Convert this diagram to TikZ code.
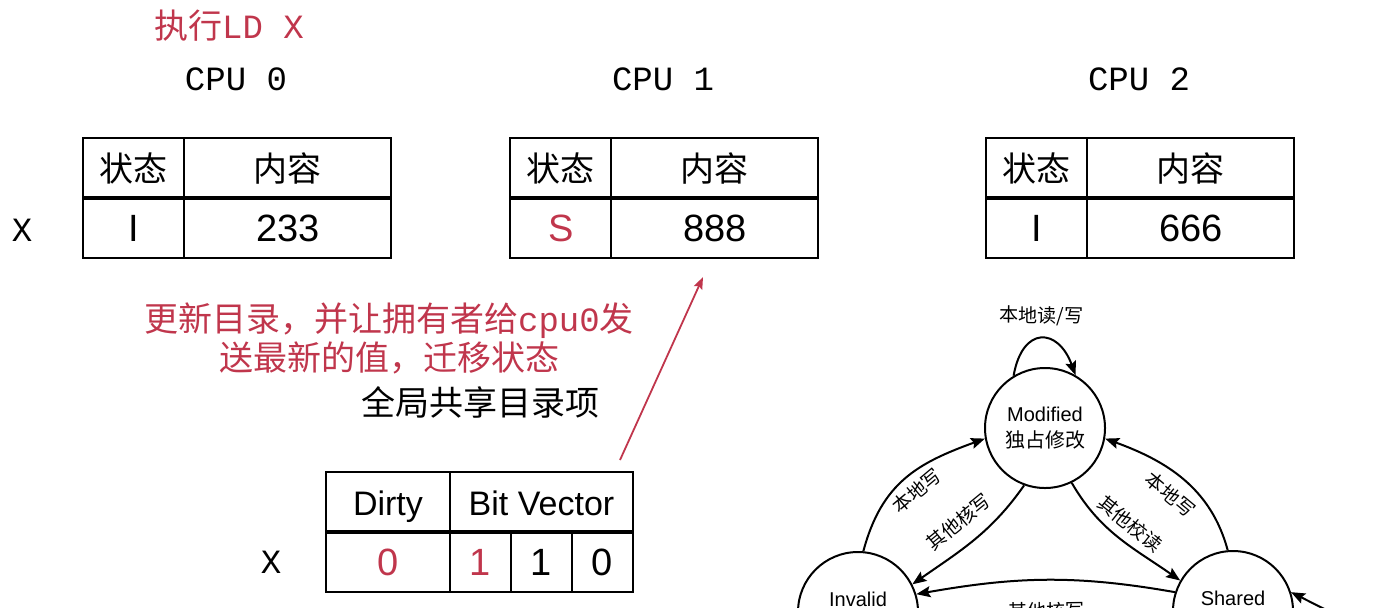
\documentclass[tikz,border=0pt]{standalone}
\usepackage{fontspec}
\setmainfont{Liberation Sans}
\setmonofont{Liberation Mono}
\newfontfamily\cjk{Noto Sans CJK SC}
\usetikzlibrary{arrows.meta,positioning,matrix}
\definecolor{hlred}{RGB}{192,54,76}
\tikzset{
	cell/.style={draw, line width=1pt, minimum height=30pt, inner sep=0pt, outer sep=0pt, anchor=center, text height=13pt, text depth=0pt},
	hdfont/.style={font=\fontsize{17pt}{20pt}\selectfont},
	valfont/.style={font=\fontsize{19pt}{22pt}\selectfont},
	monofont/.style={font=\ttfamily\fontsize{17pt}{20pt}\selectfont},
	cjkbig/.style={font=\cjk\fontsize{17pt}{19.5pt}\selectfont},
	state/.style={circle, draw, line width=1pt, minimum size=60pt, inner sep=0pt, align=center, font=\fontsize{10pt}{13pt}\selectfont},
	edge/.style={line width=1pt, -{Stealth[length=7pt,width=5.5pt,inset=1.2pt]}},
	lbl/.style={font=\cjk\fontsize{9.5pt}{11pt}\selectfont, sloped, inner sep=1pt}
}
\begin{document}
\begin{tikzpicture}[x=0.5pt, y=-0.5pt]
	\useasboundingbox (0,0) rectangle (1381,607);
	\clip (0,0) rectangle (1381,607);
	\node[cjkbig, text=hlred] (title) at (229,26) {执行{\ttfamily LD X}};
	% caches of the three cpus
	\foreach \x/\stname/\cval/\scol [count=\i from 0] in {82/I/233/black, 509/S/888/hlred, 985/I/666/black}{
		\node[monofont] (cpu\i) at (\x+154,79) {CPU \i};
		\matrix (T\i) [matrix of nodes, ampersand replacement=\&, anchor=north west, inner sep=0pt, column sep=-1pt, row sep=-1pt, nodes={cell},
			column 1/.style={nodes={minimum width=50.5pt}}, column 2/.style={nodes={minimum width=103.5pt}},
			row 1/.style={nodes={hdfont}}, row 2/.style={nodes={valfont}}] at (\x,137) {
			{\cjk 状态} \& {\cjk 内容} \\
			|[text=\scol]| \stname \& \cval \\
		};
		\draw[line width=2pt] (T\i-2-1.north west) -- (T\i-2-2.north east);
	}
	\node[monofont] (xcpu) at (22,230) {X};
	% directory entry
	\node[cjkbig, text=hlred, align=center] (note) at (389,338) {更新目录，并让拥有者给{\ttfamily cpu0}发\\送最新的值，迁移状态};
	\node[cjkbig] (dirtitle) at (480,402) {全局共享目录项};
	\node[cell, hdfont, minimum width=62pt] (dirtyhd) at (388,502) {Dirty};
	\node[cell, hdfont, minimum width=91.5pt, right=0pt of dirtyhd] (bitshd) {Bit Vector};
	\node[cell, valfont, minimum width=62pt, text=hlred, below=0pt of dirtyhd] (dirtyval) {0};
	\node[cell, valfont, minimum width=30.5pt, text=hlred, right=0pt of dirtyval] (bit1) {1};
	\node[cell, valfont, minimum width=30.5pt, right=0pt of bit1] (bit2) {1};
	\node[cell, valfont, minimum width=30.5pt, right=0pt of bit2] (bit3) {0};
	\draw[line width=2pt] (dirtyval.north west) -- (bit3.north east);
	\node[monofont] (xdir) at (271,562) {X};
	\coordinate (ptrfrom) at (620,460);
	\coordinate (ptrto) at (703,277);
	\draw[hlred, line width=0.9pt, -{Stealth[length=6pt,width=4.5pt,inset=1pt]}] (ptrfrom) -- (ptrto);
	% state machine
	\node[state] (mod) at (1045,428) {Modified\\{\cjk 独占修改}};
	\node[state] (inv) at (858,612) {Invalid\\\mbox{}};
	\node[state] (sh) at (1233,611) {Shared\\\mbox{}};
	\coordinate (fromext) at (1350,622);
	\draw[edge] (mod.121) to[out=80, in=110, looseness=2.1] node[lbl, above=5pt] {本地读/写} (mod.60);
	\draw[edge] (inv.85) to[out=75, in=200, looseness=1.1] node[lbl, below=2.5pt] {本地写} (mod.190);
	\draw[edge] (mod.250) to[out=235, in=35] node[lbl, above=6pt] {其他核写} (inv.27);
	\draw[edge] (sh.95) to[out=105, in=-20] node[lbl, below=4pt] {本地写} (mod.-10);
	\draw[edge] (mod.-64) to[out=-60, in=145] node[lbl, above=3pt] {其他校读} (sh.150);
	\draw[edge] (sh.162) to[out=170, in=10] node[lbl, below=9.5pt] {其他核写} (inv.17);
	\draw[edge] (fromext) -- (sh.18);
\end{tikzpicture}
\end{document}
